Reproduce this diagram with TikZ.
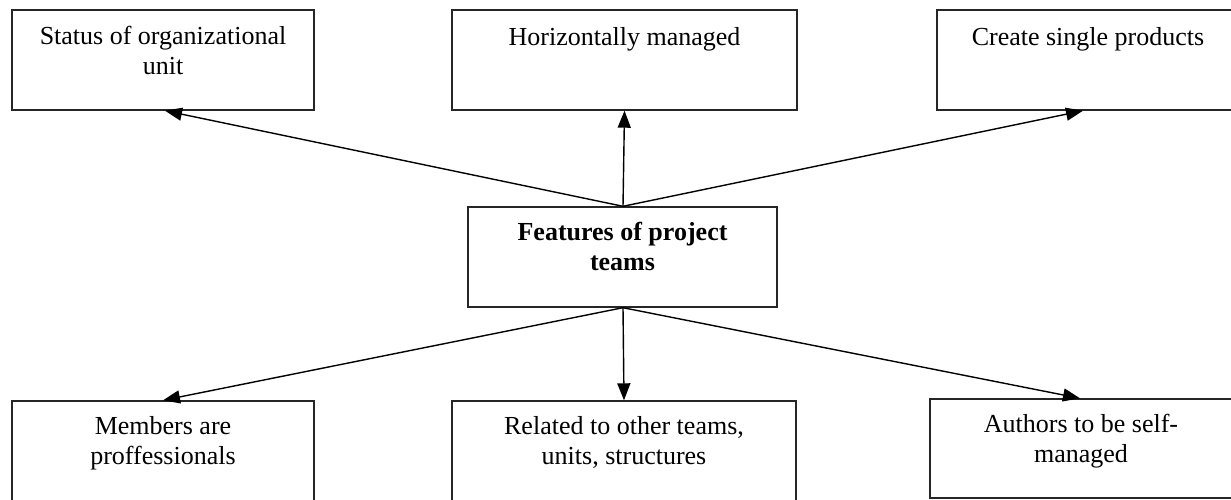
\documentclass[tikz,border=0pt]{standalone}
\usepackage{fontspec}
\setmainfont{Liberation Serif}
\usetikzlibrary{arrows.meta}
\begin{document}
\begin{tikzpicture}[x=1pt,y=-1pt,
  box/.style={draw=black!85, line width=1.4pt, minimum height=100pt, inner sep=0pt},
  lbl/.style={anchor=north, inner sep=0pt, align=center,
    font=\fontsize{26}{30}\selectfont, execute at begin node=\strut},
  link/.style={line width=1.4pt, -{Triangle[length=17pt,width=13pt]}}]
\useasboundingbox (0,0) rectangle (1231,500);

% outer boxes
\node[box, minimum width=302pt] (status)  at (163,60) {};
\node[box, minimum width=345pt] (horiz)   at (624.5,60) {};
\node[box, minimum width=302pt] (create)  at (1088,60) {};
\node[box, minimum width=309pt] (center)  at (622.5,257) {};
\node[box, minimum width=302pt] (members) at (163,451) {};
\node[box, minimum width=344pt] (related) at (624,451) {};
\node[box, minimum width=302pt, minimum height=99pt] (authors) at (1081,448.5) {};

% box texts, set at the top of each box
\node[lbl] (statusT)  at ([yshift=-17pt]status.north)  {Status of organizational\\unit};
\node[lbl] (horizT)   at ([yshift=-15pt]horiz.north)   {Horizontally managed};
\node[lbl] (createT)  at ([yshift=-15pt]create.north)  {Create single products};
\node[lbl, font=\fontsize{26}{30}\selectfont\bfseries] (centerT) at ([yshift=-16pt]center.north) {Features of project\\teams};
\node[lbl] (membersT) at ([yshift=-16pt]members.north) {Members are\\proffessionals};
\node[lbl] (relatedT) at ([yshift=-16pt]related.north) {Related to other teams,\\units, structures};
\node[lbl] (authorsT) at ([yshift=-16pt]authors.north) {Authors to be self-\\managed};

% connectors
\draw[link] ([xshift=0.5pt]center.north) -- ([xshift=2pt]status.south);
\draw[link] ([xshift=0.5pt]center.north) -- (horiz.south);
\draw[link] ([xshift=0.5pt]center.north) -- ([xshift=-5pt]create.south);
\draw[link] ([xshift=0.5pt]center.south) -- (members.north);
\draw[link] ([xshift=0.5pt]center.south) -- (related.north);
\draw[link] ([xshift=0.5pt]center.south) -- ([xshift=-1pt]authors.north);
\end{tikzpicture}
\end{document}
